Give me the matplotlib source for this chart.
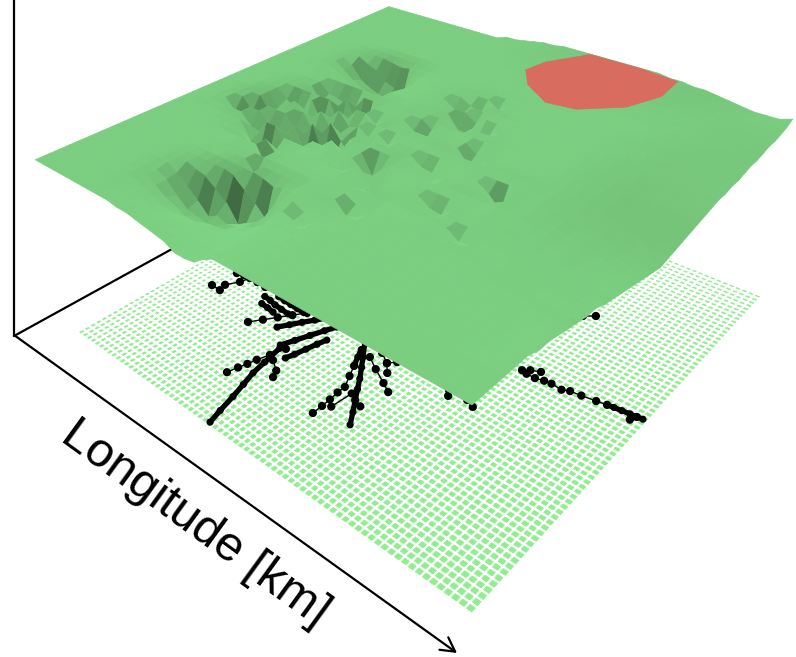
import numpy as np
import matplotlib
matplotlib.use("Agg")
import matplotlib.pyplot as plt
from matplotlib.path import Path
from mpl_toolkits.mplot3d.art3d import Poly3DCollection, Line3DCollection

plt.rcParams["font.family"] = ["Liberation Sans", "DejaVu Sans"]

# terrain height in m; everything not listed sits at the base level
base_level = 100.0
# (lon index, first lat index, heights going up the lat index)
terrain_runs = [
    (8, 0, [100, 100, 100, 100, 99, 99, 100]),
    (9, 0, [100, 100, 99, 98, 96, 96, 97, 100]),
    (10, 0, [99, 99, 98, 95, 92, 90, 92, 98, 100]),
    (11, 0, [99, 98, 96, 93, 90, 85, 87, 97, 100]),
    (12, 0, [98, 97, 95, 92, 87, 84, 81, 93, 100]),
    (13, 0, [97, 96, 94, 91, 87, 83, 84, 88, 99, 100]),
    (14, 0, [96, 95, 93, 90, 87, 84, 82, 79, 94, 100]),
    (15, 0, [95, 94, 92, 89, 87, 85, 83, 82, 89, 99]),
    (16, 0, [92, 91, 90, 89, 88, 87, 86, 85, 83, 97, 100]),
    (17, 0, [92, 92, 91, 90, 90, 89, 88, 90, 93, 99]),
    (18, 0, [93, 93, 93, 92, 92, 92, 92, 94, 98, 100]),
    (19, 0, [97, 97, 96, 96, 96, 96, 97, 98, 100]),
    (20, 0, [100, 100, 99, 99, 99, 99, 100]),
    (6, 26, [98, 96, 97, 100]),
    (7, 25, [99, 95, 92, 90, 97, 100]),
    (8, 25, [97, 92, 89, 87, 95, 100]),
    (9, 25, [95, 90, 87, 85, 90, 99]),
    (10, 25, [94, 89, 86, 84, 88, 98]),
    (11, 25, [93, 88, 84, 78, 86, 99]),
    (12, 25, [97, 95, 93, 90, 97, 100]),
    (13, 25, [100, 99, 98, 98, 100]),
    (33, 14, [98, 98, 98, 98, 98, 98, 99, 99, 99, 99]),
    (34, 6, [100, 100, 100, 100, 100, 99, 99, 99, 98, 98, 98, 97, 97, 97, 97, 97, 97, 97, 97, 97, 98, 98, 98, 99, 99, 99, 100]),
    (35, 6, [100, 100, 100, 99, 99, 99, 98, 98, 97, 97, 96, 96, 95, 95, 95, 95, 95, 95, 95, 96, 97, 97, 97, 98, 98, 99, 99, 99, 99, 100]),
    (36, 6, [100, 99, 99, 99, 98, 98, 98, 97, 96, 96, 95, 94, 94, 93, 93, 93, 93, 93, 94, 95, 95, 96, 96, 97, 97, 98, 98, 98, 99, 99, 100]),
    (37, 6, [99, 99, 99, 98, 98, 97, 97, 96, 95, 94, 93, 92, 92, 91, 91, 91, 91, 92, 92, 93, 94, 95, 95, 96, 96, 97, 97, 98, 98, 99, 99, 100, 100]),
    (38, 6, [99, 99, 98, 97, 97, 96, 96, 95, 94, 93, 92, 91, 90, 89, 89, 89, 90, 90, 91, 92, 93, 94, 94, 95, 95, 96, 96, 97, 97, 98, 99, 99, 100]),
    (39, 6, [98, 98, 98, 97, 96, 95, 95, 93, 92, 91, 90, 89, 88, 87, 87, 87, 88, 89, 90, 91, 92, 93, 93, 94, 94, 95, 96, 96, 97, 98, 98, 99, 99]),
    (40, 6, [98, 98, 97, 96, 95, 94, 94, 92, 91, 90, 89, 88, 87, 86, 85, 86, 87, 88, 89, 90, 91, 92, 93, 93, 94, 94, 95, 96, 96, 97, 98, 98, 99, 100, 102]),
    (14, 34, [100, 100, 100, 100, 100, 101, 102]),
    (15, 34, [100, 100, 100, 100, 101, 101, 102]),
    (16, 34, [100, 100, 100, 100, 101, 102, 103]),
    (17, 34, [100, 100, 100, 101, 102, 103, 104]),
    (18, 34, [100, 100, 101, 101, 102, 103, 105]),
    (19, 34, [100, 100, 101, 102, 103, 104, 105]),
    (20, 33, [100, 100, 101, 101, 102, 103, 105, 106]),
    (21, 33, [100, 100, 101, 101, 102, 103, 105, 106]),
    (22, 33, [100, 100, 101, 102, 102, 103, 105, 106]),
    (23, 33, [100, 100, 101, 102, 102, 103, 105, 106]),
    (24, 33, [100, 100, 101, 102, 102, 103, 105, 106]),
    (25, 33, [100, 100, 101, 102, 102, 103, 105, 106]),
    (26, 33, [100, 100, 101, 102, 102, 103, 105, 106]),
    (27, 33, [100, 100, 101, 101, 102, 103, 105, 106]),
    (28, 33, [100, 100, 101, 101, 102, 103, 105, 106]),
    (29, 33, [100, 100, 100, 101, 102, 103, 105, 106]),
    (30, 33, [100, 100, 100, 101, 102, 103, 104, 105]),
    (31, 34, [100, 100, 101, 102, 103, 104, 105]),
    (32, 34, [100, 100, 101, 101, 102, 103, 104]),
    (33, 35, [100, 100, 101, 102, 103, 104]),
    (34, 35, [100, 100, 101, 101, 102, 103]),
    (35, 36, [100, 100, 101, 101, 102]),
    (36, 37, [100, 100, 101, 101]),
]
# single sharp pits: (lon index, lat index, height)
terrain_pits = [
    (5, 16, 88), (6, 17, 87), (7, 18, 88), (5, 17, 93), (6, 18, 92), (4, 16, 94),
    (8, 14, 90), (9, 14, 87), (10, 14, 85), (9, 13, 94), (10, 13, 93),
    (11, 15, 86), (11, 14, 92),
    (12, 16, 85), (13, 16, 84), (13, 17, 83), (14, 17, 85), (15, 18, 85),
    (12, 15, 93), (13, 15, 92), (14, 16, 92), (15, 17, 92),
    (9, 19, 90), (10, 20, 88), (11, 21, 84), (12, 22, 84), (13, 22, 88),
    (10, 19, 95), (11, 20, 94), (12, 21, 93),
    (8, 22, 92), (9, 22, 92), (9, 23, 94), (10, 23, 92), (8, 23, 95), (10, 22, 94), (11, 23, 93),
    (6, 19, 93), (7, 19, 92), (7, 20, 91), (8, 20, 93), (6, 20, 95),
    (12, 12, 88), (12, 13, 94), (13, 10, 93),
    (7, 15, 94), (8, 15, 93), (8, 16, 94), (9, 16, 92), (10, 16, 93), (10, 17, 92), (11, 17, 93),
    (11, 18, 91), (12, 18, 93), (12, 19, 92), (13, 19, 92), (13, 20, 93), (14, 19, 94), (14, 18, 92),
    (16, 16, 96), (17, 15, 95), (18, 14, 96),
    (19, 16, 90), (20, 15, 88), (21, 14, 88), (22, 13, 86),
    (20, 16, 96), (21, 15, 95), (22, 14, 94), (19, 15, 95), (20, 14, 96), (21, 13, 96),
    (22, 10, 94), (23, 10, 96), (22, 11, 97),
    (20, 7, 96), (21, 7, 96), (20, 8, 97), (21, 6, 98),
    (19, 22, 92), (18, 22, 96), (20, 22, 95), (19, 23, 96),
    (20, 25, 93), (21, 25, 93), (22, 25, 94), (21, 24, 95), (23, 25, 96), (21, 26, 96),
    (24, 21, 93), (25, 21, 95), (24, 22, 96),
    (29, 18, 90), (28, 18, 96), (29, 17, 97), (12, 25, 94),
    (22, 18, 96), (23, 18, 95), (24, 17, 96), (26, 14, 96), (27, 14, 95), (27, 13, 97),
    (30, 12, 96), (31, 12, 97), (14, 20, 95), (15, 21, 96), (16, 19, 96), (17, 18, 95), (18, 19, 96),
    (18, 27, 96), (19, 27, 95), (20, 28, 95), (21, 29, 96), (19, 28, 97),
]

# flooded patch, lon/lat in km
flood_lon = [54.7, 50.3, 51.3, 56.5, 68.0, 77.0, 77.8, 74.9, 68.0, 61.9]
flood_lat = [79.2, 84.9, 90.9, 100.0, 100.0, 98.9, 90.8, 82.4, 75.7, 74.6]
flood_height = 106.0

# road points on the ground, lon/lat in km
dense_roads = [
    [(40.7, 0.8), (39.8, 4.0), (38.8, 8.0), (37.8, 11.5), (36.8, 14.9), (36.2, 18.5), (35.4, 23.4)],
    [(38.4, 22.0), (39.0, 24.0), (39.6, 26.5), (40.2, 29.0), (40.8, 31.2)],
    [(34.8, 24.1), (36.0, 27.0), (37.2, 30.0), (38.4, 33.0), (39.5, 35.5)],
    [(30.2, 27.6), (31.6, 29.8), (33.0, 32.0), (34.5, 34.2), (35.9, 36.3)],
    [(20.7, 33.1), (22.6, 32.9), (24.5, 32.5), (26.6, 32.3), (28.8, 32.1)],
    [(23.0, 35.0), (25.0, 34.8), (27.0, 34.7), (29.0, 34.6), (31.0, 34.5)],
    [(22.0, 31.0), (24.0, 30.8), (26.0, 30.5)],
    [(60.4, 16.8), (58.6, 19.5), (56.8, 22.1), (55.1, 24.6), (53.5, 27.0), (51.6, 29.6), (49.8, 32.0), (47.0, 35.7)],
    [(92.4, 50.9), (93.7, 51.1), (95.2, 51.3), (96.7, 51.5), (98.0, 51.6), (99.1, 51.8)],
    [(50.2, 29.0), (49.0, 31.4), (48.0, 33.5)],
]
sparse_roads = [
    [(32.8, 11.8), (33.4, 14.1), (34.0, 16.0), (34.5, 18.0), (35.4, 20.7), (36.5, 24.0)],
    [(8.9, 28.5), (11.6, 28.4), (11.0, 30.4), (12.7, 33.2), (13.3, 35.6), (15.7, 35.6), (18.3, 35.5)],
    [(9.7, 35.0), (11.5, 35.5), (13.3, 35.6)],
    [(24.4, 24.9), (26.2, 27.4), (28.0, 29.9), (29.8, 32.4), (31.6, 34.9)],
    [(37.0, 20.0), (39.7, 18.3), (40.6, 16.6)],
    [(53.2, 14.6), (53.2, 17.0), (53.1, 19.2), (52.9, 21.5), (52.9, 23.5), (51.5, 26.3), (50.2, 29.0)],
    [(60.0, 27.7), (57.7, 29.0), (54.0, 31.0), (50.8, 32.9)],
    [(56.4, 31.6), (54.5, 33.7), (51.8, 35.4)],
    [(54.5, 33.7), (55.8, 35.2)],
    [(54.6, 18.0), (55.1, 23.0)],
    [(58.6, 21.5), (56.8, 22.1)],
    [(69.1, 34.1), (68.3, 35.4)],
    [(72.4, 35.5), (74.3, 34.7)],
    [(75.4, 48.8), (76.6, 48.5), (78.5, 48.5), (80.2, 49.0), (81.7, 49.2), (84.0, 49.0), (85.4, 49.7), (87.6, 50.0), (90.4, 50.5), (92.4, 50.9)],
    [(76.6, 49.8), (78.4, 50.7)],
    [(97.4, 50.2), (98.0, 51.6)],
    [(74.5, 68.8), (75.4, 70.5), (77.4, 72.2)],
]

lon = np.linspace(0, 100, 41)
lat = np.linspace(0, 100, 41)
heights = np.full((41, 41), base_level)
for i, j0, vals in terrain_runs:
    heights[i, j0:j0 + len(vals)] = vals
for i, j, z in terrain_pits:
    heights[i, j] = z

LON, LAT = np.meshgrid(lon, lat, indexing="ij")

# facets that look back at the viewer go dark
d_lon = np.diff(heights, axis=0)
d_lat = np.diff(heights, axis=1)
slope_lon = (d_lon[:, :-1] + d_lon[:, 1:]) / 2
slope_lat = (d_lat[:-1, :] + d_lat[1:, :]) / 2
tilt = slope_lon - slope_lat
raw = np.clip(1 + 0.024 * tilt, 0.35, 1.03)
# gentle slopes would show the whole metre steps, so soften only those
padded = np.pad(raw, 2, mode="edge")
soft = np.mean([padded[2 + a:-2 + a or None, 2 + b:-2 + b or None]
                for a in (-2, -1, 0, 1, 2) for b in (-2, -1, 0, 1, 2)], axis=0)
light = np.where(np.abs(tilt) > 3.5, raw, soft)
green = np.array([123, 206, 128]) / 255
surface_colors = np.ones((40, 40, 4))
surface_colors[..., :3] = np.clip(light[..., None] * green, 0, 1)

# ground grid
ground_lon = np.linspace(0, 100, 73)
ground_lat = np.linspace(0, 100, 73)
GLON, GLAT = np.meshgrid(ground_lon, ground_lat, indexing="ij")
step = ground_lon[1] - ground_lon[0]
centers = np.c_[(GLON[:-1, :-1] + step / 2).ravel(), (GLAT[:-1, :-1] + step / 2).ravel()]
flooded = Path(np.c_[flood_lon, flood_lat]).contains_points(centers).reshape(72, 72)
ground_colors = np.zeros((72, 72, 4))
ground_colors[:] = matplotlib.colors.to_rgba("#90ee90")
ground_colors[flooded] = matplotlib.colors.to_rgba("#ff9d96")

fig = plt.figure(figsize=(7.96, 6.57), dpi=100)
ax = fig.add_axes([0, 0, 1, 1], projection="3d")
ax.set_axis_off()
ax.patch.set_visible(False)
ax.computed_zorder = False

# camera fitted to the picture: km and m in, pixels out
vert = -0.0957 / 100
camera = np.array([
    [259.0 / 100, 438.1 / 100, vert * 472, 77],
    [105.1 / 100, -136.4 / 100, vert * 1960, 332],
    [0, 0, 0, -1],
    [-0.2881 / 100, 0.304 / 100, vert, 1],
])
ax.get_proj = lambda: camera
ax.apply_aspect = lambda position=None: None
ax.viewLim.intervalx = (0, 796)
ax.viewLim.intervaly = (657, 0)

ground = ax.plot_surface(GLON, GLAT, np.zeros_like(GLON), facecolors=ground_colors,
                         rstride=1, cstride=1, shade=False, linewidth=1.6, zorder=1)
ground.set_edgecolor("white")


def draw_roads(roads, width, dot):
    lines = []
    dots = []
    for road in roads:
        pts = np.array(road)
        pts3 = np.c_[pts, np.zeros(len(pts))]
        lines.append(pts3)
        # a very short round-capped stroke gives a filled dot
        dots.extend([p, p + [0.01, 0, 0]] for p in pts3)
    ax.add_collection3d(Line3DCollection(lines, colors="k", linewidths=width, capstyle="round", zorder=2), autolim=False)
    ax.add_collection3d(Line3DCollection(dots, colors="k", linewidths=dot, capstyle="round", zorder=2), autolim=False)


draw_roads(dense_roads, 3.8, 5.2)
draw_roads(sparse_roads, 1.0, 6.0)

ax.plot_surface(LON, LAT, heights, facecolors=surface_colors, rstride=1, cstride=1,
                shade=False, linewidth=0.5, antialiased=True, zorder=3)

flood = Poly3DCollection([list(zip(flood_lon, flood_lat, [flood_height] * len(flood_lon)))],
                         facecolors="#d76c5f", edgecolors="#d76c5f", linewidths=0.5, zorder=4)
ax.add_collection3d(flood, autolim=False)

# axis lines, in picture pixels
ax.annotate("", xy=(14, 0), xytext=(14, 336), arrowprops=dict(arrowstyle="-", lw=1.6, color="k", shrinkA=0, shrinkB=0), zorder=0.5)
ax.annotate("", xy=(172, 249), xytext=(14, 336), arrowprops=dict(arrowstyle="-", lw=1.6, color="k", shrinkA=0, shrinkB=0), zorder=0.5)
ax.annotate("", xy=(457, 653), xytext=(14, 335),
            arrowprops=dict(arrowstyle="->,head_length=1.0,head_width=0.55", lw=1.6, color="k", shrinkA=0, shrinkB=0), zorder=5)

fig.text(195 / 796, 1 - 524 / 657, "Longitude [km]", fontsize=35, rotation=-36,
         rotation_mode="anchor", ha="center", va="center", color="k")

fig.savefig("out.png", dpi=100)
